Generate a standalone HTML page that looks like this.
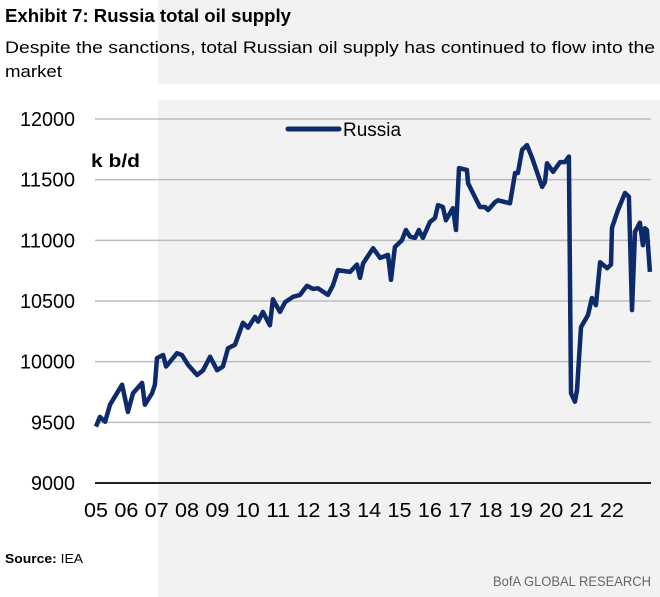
<!DOCTYPE html>
<html><head><meta charset="utf-8"><style>
html,body{margin:0;padding:0;background:#fff;}
svg{display:block;font-family:"Liberation Sans",sans-serif;}
</style></head><body>
<svg id="chart" width="660" height="597" viewBox="0 0 660 597" xmlns="http://www.w3.org/2000/svg">
<rect x="158" y="0" width="502" height="84" fill="#f2f2f2"/>
<rect x="158" y="100" width="502" height="497" fill="#f2f2f2"/>
<text x="5" y="22" font-size="18" font-weight="bold" textLength="286" lengthAdjust="spacingAndGlyphs">Exhibit 7: Russia  total  oil supply</text>
<text x="5" y="53" font-size="17" textLength="650" lengthAdjust="spacingAndGlyphs">Despite  the sanctions,  total  Russian  oil  supply  has continued  to flow into  the</text>
<text x="5" y="77" font-size="17" textLength="57" lengthAdjust="spacingAndGlyphs">market</text>
<g id="grid"></g>
<g id="yticks"></g>
<g id="xticks"></g>
<line x1="95" y1="483" x2="651" y2="483" stroke="#222" stroke-width="2"/>
<text x="91" y="167" font-size="18" font-weight="bold" textLength="49" lengthAdjust="spacingAndGlyphs">k b/d</text>
<line x1="288" y1="129" x2="339" y2="129" stroke="#0d2a6b" stroke-width="5" stroke-linecap="round"/>
<text x="343" y="136" font-size="19" textLength="58" lengthAdjust="spacingAndGlyphs">Russia</text>
<path id="series" fill="none" stroke="#0d2a6b" stroke-width="4.5" stroke-linejoin="round"/>
<text x="5" y="563" font-size="13" textLength="78" lengthAdjust="spacingAndGlyphs"><tspan font-weight="bold">Source:</tspan>  IEA</text>
<text x="651" y="586" font-size="14" fill="#666" text-anchor="end" textLength="158" lengthAdjust="spacingAndGlyphs">BofA  GLOBAL   RESEARCH</text>
</svg>
<script>
const years = [2005.00,2005.13,2005.30,2005.46,2005.86,2006.05,2006.22,2006.52,2006.61,2006.85,2006.94,2007.01,2007.21,2007.31,2007.67,2007.83,2008.03,2008.33,2008.53,2008.76,2008.99,2009.18,2009.35,2009.58,2009.84,2010.01,2010.24,2010.34,2010.50,2010.73,2010.83,2011.06,2011.23,2011.49,2011.72,2011.95,2012.15,2012.31,2012.64,2012.81,2012.97,2013.37,2013.60,2013.70,2013.80,2014.13,2014.36,2014.62,2014.72,2014.85,2015.08,2015.21,2015.35,2015.51,2015.64,2015.77,2016.00,2016.17,2016.27,2016.43,2016.53,2016.76,2016.86,2016.96,2017.22,2017.26,2017.42,2017.65,2017.82,2017.92,2018.15,2018.25,2018.64,2018.81,2018.90,2019.04,2019.20,2019.37,2019.70,2019.79,2019.86,2020.06,2020.29,2020.45,2020.58,2020.65,2020.78,2020.85,2020.98,2021.21,2021.34,2021.47,2021.61,2021.84,2021.97,2022.00,2022.20,2022.43,2022.56,2022.66,2022.76,2022.92,2023.02,2023.09,2023.15,2023.25];
const supply = [9465,9545,9505,9645,9810,9585,9740,9825,9645,9740,9810,10030,10055,9960,10070,10055,9975,9890,9930,10040,9930,9960,10110,10140,10320,10280,10370,10330,10410,10300,10515,10410,10490,10535,10550,10625,10600,10605,10550,10630,10755,10740,10800,10690,10810,10935,10855,10880,10675,10945,11000,11085,11030,11020,11085,11020,11150,11185,11290,11275,11165,11265,11085,11595,11580,11470,11390,11275,11275,11250,11315,11330,11305,11555,11555,11745,11785,11680,11440,11480,11635,11565,11645,11645,11690,9740,9670,9765,10285,10385,10525,10465,10820,10770,10800,11105,11250,11390,11360,10425,11070,11145,10960,11100,11085,10740];
const yTicks = [9000,9500,10000,10500,11000,11500,12000];
const xTickLabels = ["05","06","07","08","09","10","11","12","13","14","15","16","17","18","19","20","21","22"];
const xTickYears = [2005,2006,2007,2008,2009,2010,2011,2012,2013,2014,2015,2016,2017,2018,2019,2020,2021,2022];

const NS="http://www.w3.org/2000/svg";
const x = t => 96 + (t-2005)*30.35;
const y = v => 483 - (v-9000)*(364/3000);
const grid=document.getElementById('grid'), yt=document.getElementById('yticks'), xt=document.getElementById('xticks');
yTicks.forEach(v=>{
  if(v>9000){
    const l=document.createElementNS(NS,'line');
    
    
    l.setAttribute('x1',95);l.setAttribute('x2',651);l.setAttribute('y1',y(v));l.setAttribute('y2',y(v));
    l.setAttribute('stroke','#bdbdbd');l.setAttribute('stroke-width','1.5');
    grid.appendChild(l);
  }
  const t=document.createElementNS(NS,'text');
  
  
  t.setAttribute('x',75);t.setAttribute('y',y(v)+7);t.setAttribute('text-anchor','end');
  t.setAttribute('font-size','20');t.setAttribute('textLength', String(v).length*11);t.setAttribute('lengthAdjust','spacingAndGlyphs');
  t.textContent=v; yt.appendChild(t);
});
xTickLabels.forEach((lab,i)=>{
  const t=document.createElementNS(NS,'text');
  
  
  t.setAttribute('x',x(xTickYears[i]));t.setAttribute('y',517);t.setAttribute('text-anchor','middle');
  t.setAttribute('font-size','20');t.setAttribute('textLength','24');t.setAttribute('lengthAdjust','spacingAndGlyphs');
  t.textContent=lab; xt.appendChild(t);
});
document.getElementById('series').setAttribute('d', years.map((t,i)=>(i?'L':'M')+x(t).toFixed(1)+','+y(supply[i]).toFixed(1)).join(' '));
</script>
</body></html>
